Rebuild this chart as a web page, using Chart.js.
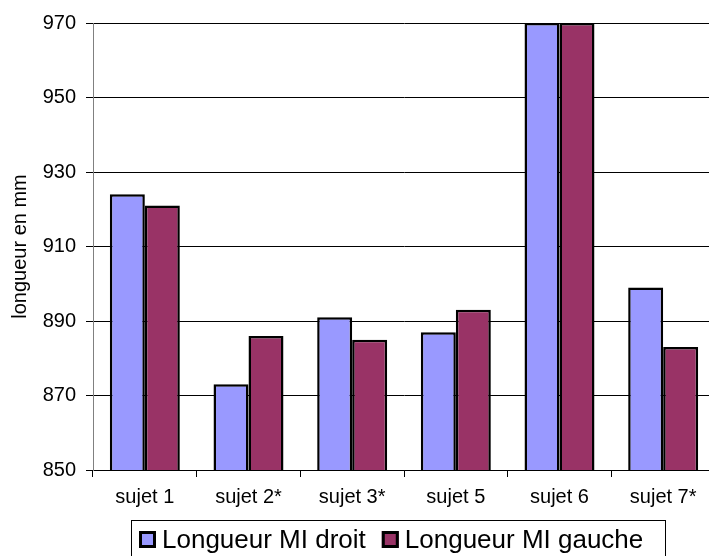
<!DOCTYPE html>
<html>
<head>
<meta charset="utf-8">
<script src="https://cdn.jsdelivr.net/npm/chart.js@4/dist/chart.umd.min.js"></script>
<style>
  html, body { margin: 0; padding: 0; background: #fff; overflow: hidden; width: 709px; height: 556px; }
  canvas { display: block; }
</style>
</head>
<body>
<canvas id="c" width="715" height="556"></canvas>
<script>
// Leg length per subject, right and left lower limb (mm)
const subjects = ['sujet 1', 'sujet 2*', 'sujet 3*', 'sujet 5', 'sujet 6', 'sujet 7*'];
const droit = [924, 873, 891, 887, 970, 899];
const gauche = [921, 886, 885, 893, 970, 883];
const seriesNames = ['Longueur MI droit', 'Longueur MI gauche'];
const seriesColors = ['#9999FF', '#993366'];
const yMin = 850, yMax = 970, yStep = 20;
const yTitle = 'longueur en mm';

const FONT = 'Liberation Sans, Arial, sans-serif';

// Boxed legend drawn under the axis
const boxedLegend = {
  id: 'boxedLegend',
  afterDraw(chart) {
    const ctx = chart.ctx;
    ctx.save();
    const fontSize = 26;
    ctx.font = fontSize + 'px ' + FONT;
    ctx.textBaseline = 'alphabetic';
    const boxL = 131, boxT = 520, boxR = 665;
    ctx.strokeStyle = '#000';
    ctx.lineWidth = 1;
    ctx.strokeRect(boxL + 0.5, boxT + 0.5, boxR - boxL, 60);
    let x = 139;
    const sq = 17, sqTop = 531, baseline = 548;
    chart.data.datasets.forEach((ds) => {
      ctx.fillStyle = ds.backgroundColor;
      ctx.fillRect(x, sqTop, sq, sq);
      ctx.lineWidth = 3;
      ctx.strokeStyle = '#000';
      ctx.strokeRect(x + 1.5, sqTop + 1.5, sq - 3, sq - 3);
      ctx.fillStyle = '#000';
      ctx.fillText(ds.label, x + sq + 6, baseline);
      x += sq + 6 + ctx.measureText(ds.label).width + 16;
    });
    ctx.restore();
  }
};

new Chart(document.getElementById('c'), {
  type: 'bar',
  data: {
    labels: subjects,
    datasets: [
      { label: seriesNames[0], data: droit, backgroundColor: seriesColors[0], borderColor: '#000',
        borderWidth: 2.5, borderSkipped: 'start' },
      { label: seriesNames[1], data: gauche, backgroundColor: seriesColors[1], borderColor: '#000',
        borderWidth: 2.5, borderSkipped: 'start' }
    ]
  },
  options: {
    responsive: false,
    animation: false,
    devicePixelRatio: 1,
    layout: { padding: { left: 0, right: 0, top: 23, bottom: 0 } },
    datasets: { bar: { categoryPercentage: 0.675, barPercentage: 1 } },
    plugins: { legend: { display: false }, tooltip: { enabled: false } },
    scales: {
      x: {
        afterFit(scale) { scale.height = 86; },
        grid: { offset: true, drawOnChartArea: false, drawTicks: true, tickLength: 7, color: '#000', lineWidth: 1 },
        border: { display: true, color: '#000', width: 1 },
        ticks: { color: '#000', font: { family: FONT, size: 20 }, padding: 8, maxRotation: 0 }
      },
      y: {
        min: yMin, max: yMax,
        afterFit(scale) { scale.width = 93; },
        grid: { color: '#000', lineWidth: 1, drawTicks: true, tickLength: 7, tickColor: '#000' },
        border: { display: true, color: '#808080', width: 1 },
        ticks: { stepSize: yStep, color: '#000', font: { family: FONT, size: 20 }, padding: 10 },
        title: { display: true, text: yTitle, color: '#000', font: { family: FONT, size: 20 }, padding: { top: 8, bottom: 0 } }
      }
    }
  },
  plugins: [boxedLegend]
});
</script>
</body>
</html>
